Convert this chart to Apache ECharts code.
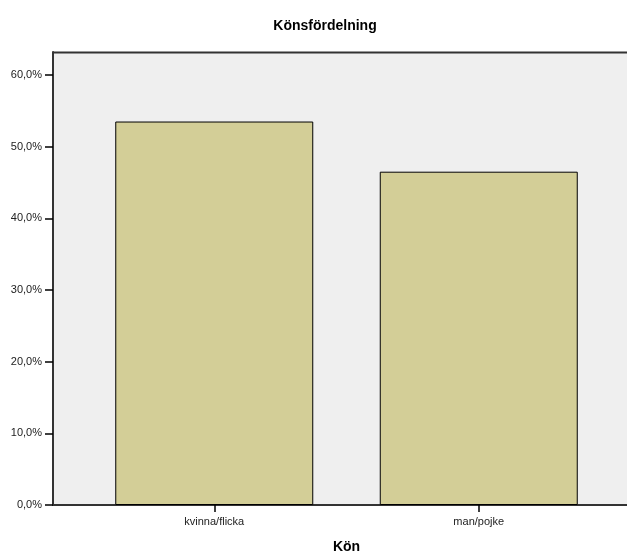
<!DOCTYPE html>
<html>
<head>
<meta charset="utf-8">
<script src="https://cdn.jsdelivr.net/npm/echarts@6/dist/echarts.min.js"></script>
<style>html,body{margin:0;padding:0;background:#fff;}#c{width:627px;height:552px;}</style>
</head>
<body>
<div id="c"></div>
<script>
const categories = ['kvinna/flicka', 'man/pojke'];
const percentValues = [53.5, 46.5];
const yTicks = [0, 10, 20, 30, 40, 50, 60];
const titleText = 'Könsfördelning';
const xAxisName = 'Kön';

const yMax = 63.2;
const fontFam = 'Liberation Sans, Arial, sans-serif';
const chart = echarts.init(document.getElementById('c'), null, {renderer: 'canvas'});
const fmt = v => v.toFixed(1).replace('.', ',') + '%';

chart.setOption({
  animation: false,
  backgroundColor: '#fff',
  title: {
    text: titleText, left: 320, top: 14, textAlign: 'center',
    textStyle: {fontFamily: fontFam, fontSize: 14, fontWeight: 'bold', color: '#000'}
  },
  grid: [
    {left: 53, right: 0, top: 52, bottom: 47, show: true, backgroundColor: '#efefef', borderWidth: 0,
     containLabel: false, outerBoundsMode: 'none'},
    {left: 82, right: 16, top: 52, bottom: 47, containLabel: false, outerBoundsMode: 'none'}
  ],
  xAxis: [
    {gridIndex: 0, type: 'value', min: 0, max: 1, show: true,
     axisLine: {show: true, lineStyle: {color: '#333', width: 2}},
     axisTick: {show: false}, axisLabel: {show: false}, splitLine: {show: false}},
    {gridIndex: 1, type: 'category', data: categories, boundaryGap: true,
     axisLine: {show: false},
     axisTick: {show: true, alignWithLabel: true, length: 7, lineStyle: {color: '#000', width: 1.5}},
     axisLabel: {fontFamily: fontFam, fontSize: 11, color: '#222', margin: 11},
     name: xAxisName, nameLocation: 'middle', nameGap: 35,
     nameTextStyle: {fontFamily: fontFam, fontSize: 14, fontWeight: 'bold', color: '#000'}}
  ],
  yAxis: [
    {gridIndex: 0, type: 'value', min: 0, max: yMax, interval: 10,
     axisLine: {show: true, lineStyle: {color: '#333', width: 2}},
     axisTick: {show: true, length: 8, lineStyle: {color: '#000', width: 1.5},
       customValues: yTicks},
     axisLabel: {fontFamily: fontFam, fontSize: 11, color: '#222', margin: 11,
       customValues: yTicks, formatter: v => fmt(v)},
     splitLine: {show: false}},
    {gridIndex: 1, type: 'value', min: 0, max: yMax, show: false, splitLine: {show: false}}
  ],
  graphic: [
    {type: 'line', shape: {x1: 53, y1: 52.5, x2: 627, y2: 52.5}, style: {stroke: '#333', lineWidth: 2}, z: 10}
  ],
  series: [{
    type: 'bar', xAxisIndex: 1, yAxisIndex: 1,
    data: percentValues, barWidth: 198,
    itemStyle: {color: '#d3ce97', borderColor: '#000', borderWidth: 1}
  }]
});
</script>
</body>
</html>
